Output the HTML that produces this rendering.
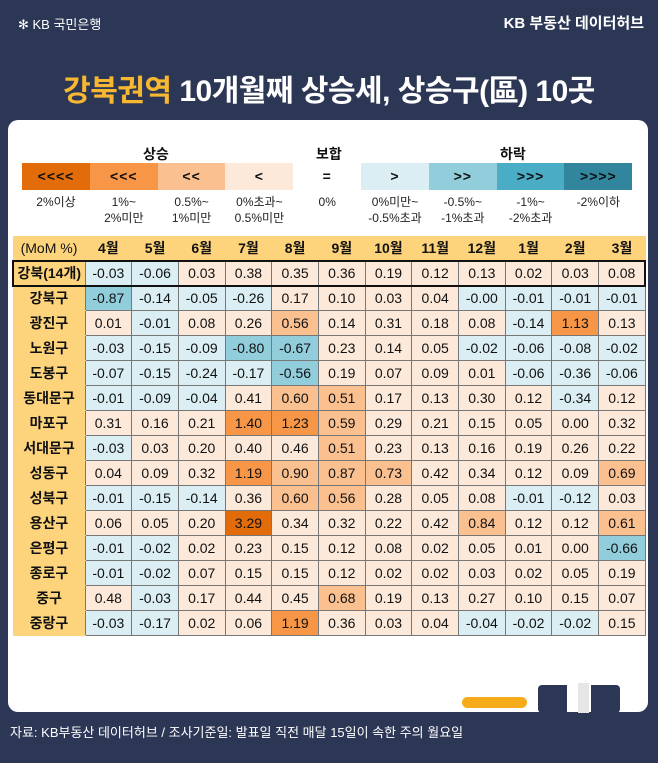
<!DOCTYPE html>
<html><head><meta charset="utf-8"><style>
*{margin:0;padding:0;box-sizing:border-box}
body{width:658px;height:763px;background:#2c3756;font-family:"Liberation Sans","Noto Sans CJK KR",sans-serif;position:relative;overflow:hidden;color:#111}
.abs{position:absolute}
#card{left:8px;top:120px;width:640px;height:592px;background:#fff;border-radius:10px}
.lg{position:absolute;top:163px;height:27px;width:68px;text-align:center;font-weight:bold;font-size:14px;line-height:27px;letter-spacing:1px}
.ll{position:absolute;top:194px;width:68px;text-align:center;font-size:12px;line-height:16px;color:#222}
table{position:absolute;left:12px;top:236px;border-collapse:collapse;font-size:14px}
td{height:25px;width:46.7px;text-align:center;border:1px solid #777;font-stretch:condensed}
td.n{width:72px;background:#fdd47c;font-weight:bold;border-color:#fdd47c;border-right:1px solid #777}
tr.h td{background:#fdd47c;font-weight:bold;border-color:#fdd47c;height:24px}
tr.k td{border-top:2px solid #111;border-bottom:2px solid #111}
tr.k td:first-child{border-left:2px solid #111}
tr.k td:last-child{border-right:2px solid #111}
</style></head><body>
<div class="abs" style="left:18px;top:14px;color:#fff;font-size:13px">✻ KB 국민은행</div>
<div class="abs" style="right:14px;top:12px;color:#fff;font-size:15px;font-weight:bold">KB 부동산 데이터허브</div>
<div class="abs" style="left:0;width:658px;top:66px;text-align:center;color:#fff;font-size:30px;font-weight:bold;letter-spacing:-0.5px"><span style="color:#f7b731">강북권역</span> 10개월째 상승세, 상승구(區) 10곳</div>
<div id="card" class="abs"></div>
<div class="abs" style="left:143px;top:144px;font-size:14px;font-weight:bold">상승</div>
<div class="abs" style="left:316px;top:144px;font-size:14px;font-weight:bold">보합</div>
<div class="abs" style="left:500px;top:144px;font-size:14px;font-weight:bold">하락</div>
<div id="leg"></div>
<table id="t"></table>
<div class="abs" style="left:462px;top:697px;width:65px;height:11px;border-radius:6px;background:#f6ab1a"></div>
<div class="abs" style="left:538px;top:685px;width:29px;height:28px;border-radius:4px 0 0 4px;background:#2c3756"></div>
<div class="abs" style="left:578px;top:683px;width:11px;height:30px;background:#e6e6e6"></div>
<div class="abs" style="left:591px;top:685px;width:29px;height:28px;border-radius:0 4px 4px 0;background:#2c3756"></div>
<div class="abs" style="left:10px;top:722px;color:#fff;font-size:13px">자료: KB부동산 데이터허브 / 조사기준일: 발표일 직전 매달 15일이 속한 주의 월요일</div>
<script>
const lc=["#e36c0a","#f79646","#fac090","#fde9d9","#fff","#daeef3","#92cddc","#4bacc6","#31859c"];
const ls=["<<<<","<<<","<<","<","=",">",">>",">>>",">>>>"];
const lt=["2%이상","1%~<br>2%미만","0.5%~<br>1%미만","0%초과~<br>0.5%미만","0%","0%미만~<br>-0.5%초과","-0.5%~<br>-1%초과","-1%~<br>-2%초과","-2%이하"];
let h="";for(let i=0;i<9;i++){const x=22+i*67.8;h+=`<div class="lg" style="left:${x}px;background:${lc[i]}">${ls[i].replace(/</g,'&lt;').replace(/>/g,'&gt;')}</div><div class="ll" style="left:${x}px">${lt[i]}</div>`}
document.getElementById('leg').innerHTML=h;
const rows=[["강북(14개)","-0.03 -0.06 0.03 0.38 0.35 0.36 0.19 0.12 0.13 0.02 0.03 0.08"],
["강북구","-0.87 -0.14 -0.05 -0.26 0.17 0.10 0.03 0.04 -0.00 -0.01 -0.01 -0.01"],
["광진구","0.01 -0.01 0.08 0.26 0.56 0.14 0.31 0.18 0.08 -0.14 1.13 0.13"],
["노원구","-0.03 -0.15 -0.09 -0.80 -0.67 0.23 0.14 0.05 -0.02 -0.06 -0.08 -0.02"],
["도봉구","-0.07 -0.15 -0.24 -0.17 -0.56 0.19 0.07 0.09 0.01 -0.06 -0.36 -0.06"],
["동대문구","-0.01 -0.09 -0.04 0.41 0.60 0.51 0.17 0.13 0.30 0.12 -0.34 0.12"],
["마포구","0.31 0.16 0.21 1.40 1.23 0.59 0.29 0.21 0.15 0.05 0.00 0.32"],
["서대문구","-0.03 0.03 0.20 0.40 0.46 0.51 0.23 0.13 0.16 0.19 0.26 0.22"],
["성동구","0.04 0.09 0.32 1.19 0.90 0.87 0.73 0.42 0.34 0.12 0.09 0.69"],
["성북구","-0.01 -0.15 -0.14 0.36 0.60 0.56 0.28 0.05 0.08 -0.01 -0.12 0.03"],
["용산구","0.06 0.05 0.20 3.29 0.34 0.32 0.22 0.42 0.84 0.12 0.12 0.61"],
["은평구","-0.01 -0.02 0.02 0.23 0.15 0.12 0.08 0.02 0.05 0.01 0.00 -0.66"],
["종로구","-0.01 -0.02 0.07 0.15 0.15 0.12 0.02 0.02 0.03 0.02 0.05 0.19"],
["중구","0.48 -0.03 0.17 0.44 0.45 0.68 0.19 0.13 0.27 0.10 0.15 0.07"],
["중랑구","-0.03 -0.17 0.02 0.06 1.19 0.36 0.03 0.04 -0.04 -0.02 -0.02 0.15"]];
function col(s){const v=parseFloat(s);if(s[0]=='-'){if(v<=-2)return lc[8];if(v<=-1)return lc[7];if(v<=-0.5)return lc[6];return lc[5]}
if(v>=2)return lc[0];if(v>=1)return lc[1];if(v>=0.5)return lc[2];if(v>0)return lc[3];return "#fde9d9"}
let t='<tr class="h"><td class="n" style="font-weight:normal">(MoM %)</td>'+["4월","5월","6월","7월","8월","9월","10월","11월","12월","1월","2월","3월"].map(m=>`<td>${m}</td>`).join('')+'</tr>';
rows.forEach((r,i)=>{t+=`<tr${i==0?' class="k"':''}><td class="n">${r[0]}</td>`+r[1].split(' ').map(s=>`<td style="background:${col(s)}">${s}</td>`).join('')+'</tr>'});
document.getElementById('t').innerHTML=t;
</script>
</body></html>
